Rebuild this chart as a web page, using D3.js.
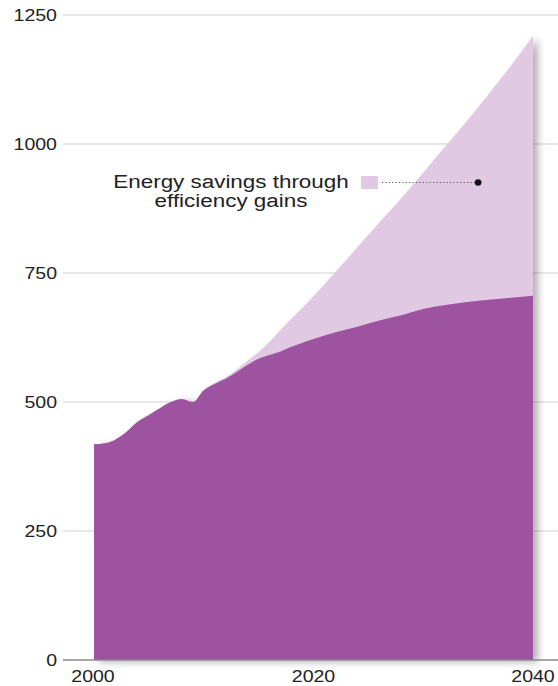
<!DOCTYPE html>
<html>
<head>
<meta charset="utf-8">
<script src="https://cdn.jsdelivr.net/npm/d3@7"></script>
<style>
  body { margin: 0; background: #fff; }
  text { font-family: "Liberation Sans", Arial, sans-serif; fill: #222; }
</style>
</head>
<body>
<div id="chart"></div>
<script>
// demand with efficiency gains (dark) and without (top of light area)
const years = [2000, 2001, 2002, 2003, 2004, 2005, 2006, 2007, 2008, 2009, 2010,
  2011, 2012, 2013, 2014, 2015, 2016, 2017, 2018, 2019, 2020,
  2022, 2024, 2026, 2028, 2030, 2032, 2034, 2036, 2038, 2040];
const withEfficiency = [418, 420, 428, 443, 462, 475, 488, 500, 506, 500, 523,
  535, 545, 558, 572, 584, 591, 598, 607, 615, 622,
  635, 646, 658, 668, 680, 688, 694, 698, 702, 706];
const withoutEfficiency = [418, 420, 428, 443, 462, 475, 488, 500, 506, 500, 523,
  537, 548, 563, 580, 597, 617, 640, 662, 683, 705,
  752, 800, 848, 895, 945, 995, 1045, 1098, 1152, 1210];
const yTicks = [0, 250, 500, 750, 1000, 1250];
const xTicks = [2000, 2020, 2040];
const legendText = ["Energy savings through", "efficiency gains"];

const width = 558, height = 686;
const stretch = 1.15;

const svg = d3.select("#chart").append("svg")
  .attr("width", width)
  .attr("height", height);

const defs = svg.append("defs");
defs.append("filter")
  .attr("id", "shadow")
  .attr("x", "-10%").attr("y", "-10%")
  .attr("width", "130%").attr("height", "130%")
  .append("feDropShadow")
  .attr("dx", 5).attr("dy", 2)
  .attr("stdDeviation", 3.5)
  .attr("flood-color", "#000")
  .attr("flood-opacity", 0.3);

const x = d3.scaleLinear().domain([2000, 2040]).range([94, 533]);
const y = d3.scaleLinear().domain([0, 1250]).range([660, 15]);

// gridlines
svg.append("g")
  .selectAll("line")
  .data(yTicks.filter(d => d > 0))
  .enter()
  .append("line")
  .attr("x1", 63).attr("x2", width)
  .attr("y1", d => y(d)).attr("y2", d => y(d))
  .attr("stroke", "#d2d2d2")
  .attr("stroke-width", 1.2);

// areas
const rows = years.map((yr, i) => ({ yr: yr, lo: withEfficiency[i], hi: withoutEfficiency[i] }));
const areaG = svg.append("g").attr("filter", "url(#shadow)");

areaG.append("path")
  .datum(rows)
  .attr("d", d3.area()
    .curve(d3.curveMonotoneX)
    .x(d => x(d.yr))
    .y0(y(0))
    .y1(d => y(d.hi)))
  .attr("fill", "#e1c9e3");

areaG.append("path")
  .datum(rows)
  .attr("d", d3.area()
    .curve(d3.curveMonotoneX)
    .x(d => x(d.yr))
    .y0(y(0))
    .y1(d => y(d.lo)))
  .attr("fill", "#9e52a0");

// baseline
svg.append("line")
  .attr("x1", 63).attr("x2", width)
  .attr("y1", y(0)).attr("y2", y(0))
  .attr("stroke", "#8a8a8a")
  .attr("stroke-width", 1.3);

// y tick labels
svg.append("g")
  .selectAll("g")
  .data(yTicks)
  .enter()
  .append("g")
  .attr("transform", d => "translate(57," + y(d) + ") scale(" + stretch + ",1)")
  .append("text")
  .attr("text-anchor", "end")
  .attr("dy", "0.36em")
  .style("font-size", "17px")
  .text(d => d);

// x tick labels
svg.append("g")
  .selectAll("g")
  .data(xTicks)
  .enter()
  .append("g")
  .attr("transform", d => "translate(" + (x(d) - (d === 2000 ? 1 : 0)) + ",682) scale(" + stretch + ",1)")
  .append("text")
  .attr("text-anchor", "middle")
  .style("font-size", "17px")
  .text(d => d);

// legend annotation
const leg = svg.append("g");
leg.selectAll("g")
  .data(legendText)
  .enter()
  .append("g")
  .attr("transform", (d, i) => "translate(231," + (188 + i * 19) + ") scale(1.18,1)")
  .append("text")
  .attr("text-anchor", "middle")
  .style("font-size", "19px")
  .text(d => d);

leg.append("rect")
  .attr("x", 361).attr("y", 176)
  .attr("width", 17).attr("height", 13)
  .attr("fill", "#e1c9e3");

leg.append("line")
  .attr("x1", 382).attr("x2", x(2035))
  .attr("y1", 182.5).attr("y2", 182.5)
  .attr("stroke", "#555")
  .attr("stroke-width", 1.2)
  .attr("stroke-dasharray", "1.2,2.2");

leg.append("circle")
  .attr("cx", x(2035)).attr("cy", 182.5)
  .attr("r", 3.3)
  .attr("fill", "#111");
</script>
</body>
</html>
